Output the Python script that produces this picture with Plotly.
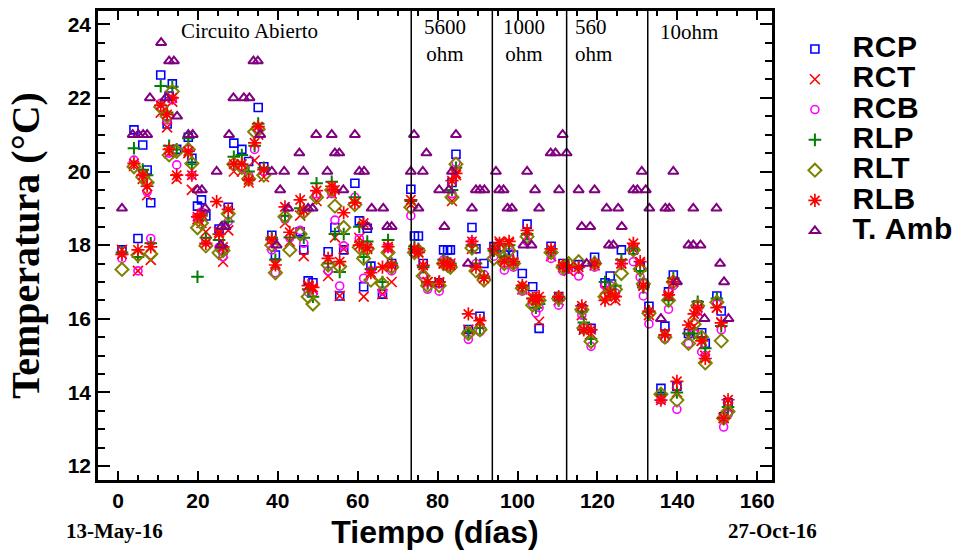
import plotly.graph_objects as go

# Días de medición (desde el 13-May-16) y temperaturas de cada sensor (°C)
dias = [1.0, 4.0, 5.0, 6.2, 7.3, 8.2, 10.7, 12.3, 12.8, 13.6,
        14.7, 17.6, 18.5, 19.9, 20.9, 22.0, 24.7, 25.3, 26.3, 27.6,
        29.0, 31.0, 32.7, 34.2, 35.1, 36.5, 38.5, 39.4, 41.8, 43.0,
        45.6, 46.5, 47.6, 48.8, 49.7, 52.6, 53.5, 54.3, 55.5, 56.5,
        59.3, 60.4, 61.5, 62.4, 63.3, 66.2, 67.6, 68.5, 73.3, 74.2,
        75.2, 76.4, 77.5, 80.4, 81.5, 82.5, 83.2, 83.6, 84.6, 87.7,
        88.6, 89.6, 90.6, 91.6, 94.1, 95.5, 96.7, 97.9, 99.0, 101.2,
        102.4, 103.8, 104.6, 105.4, 108.4, 110.3, 111.4, 112.8, 115.3, 116.1,
        116.6, 118.4, 119.3, 121.9, 123.2, 124.5, 126.0, 129.0, 130.7, 131.5,
        132.9, 135.9, 136.9, 137.8, 139.0, 139.9, 142.8, 144.2, 145.1, 146.1,
        147.0, 149.9, 151.0, 151.6, 152.7]

rcp = [17.87, 21.13, 18.18, 20.72, 20.04, 19.15, 22.62, 21.29, 22.05, 22.38,
       20.60, 20.93, 20.36, 19.06, 19.23, 18.79, None, 18.44, 17.87, 19.03,
       20.77, 20.60, 20.27, None, 21.74, 20.13, 18.27, 17.73, None, None,
       18.36, 17.87, 17.03, 16.98, None, 17.82, None, 18.48, 16.62, 17.87,
       19.68, 18.66, 16.87, 18.46, 17.43, 16.67, None, 17.50, 19.52, 18.25,
       18.25, 17.50, None, 16.98, 17.87, 17.87, 17.87, 19.70, 20.47, 15.71,
       18.48, 17.90, 16.07, 17.50, 17.96, None, 17.73, 17.73, 17.73, 17.23,
       18.57, 16.87, None, 15.74, 17.97, 16.60, 17.50, None, 17.47, 16.28,
       15.74, 15.74, 17.67, 16.98, 17.16, None, 17.87, 17.87, 17.41, 16.96,
       16.34, 14.11, 15.80, 16.73, 17.19, 14.17, 15.60, None, 16.37, 15.62,
       15.33, 16.62, 16.21, 13.34, 13.72]

rct = [17.87, 20.15, 17.30, 19.80, 19.36, 17.60, 21.60, 21.20, 20.50, 21.90,
       19.80, 20.50, 19.50, 18.70, 18.60, 18.36, None, 18.35, 17.55, 18.40,
       20.00, 20.00, 19.70, 20.30, 21.00, 19.85, 18.00, 17.50, 18.60, 18.10,
       18.80, 17.70, 16.90, 16.80, 19.20, 17.16, 19.40, 18.21, 16.62, 17.90,
       19.15, 18.20, 16.60, 17.90, 17.20, 16.67, 17.90, 17.00, 19.10, 17.85,
       17.80, 17.30, 17.00, 16.98, 17.50, 17.45, 17.50, 19.20, 19.90, 15.70,
       17.90, 17.40, 15.90, 17.10, 17.80, 18.10, 17.60, 18.05, 17.50, 16.80,
       18.20, 16.60, 16.50, 15.92, 17.70, 16.50, 17.40, 17.30, 17.30, 16.10,
       15.70, 15.60, 17.45, 16.80, 16.70, 16.50, 17.50, 17.90, 17.50, 16.90,
       16.10, 13.85, 15.60, 16.60, 17.00, 14.00, 15.50, 15.80, 16.20, 15.40,
       15.00, 16.30, 15.90, 13.30, 13.60]

rcb = [17.64, 20.31, 17.30, 19.95, 19.45, 18.18, 21.85, 21.40, 20.50, 21.95,
       20.18, 20.60, 19.90, 18.73, 18.90, 18.09, None, 17.94, 17.68, 18.64,
       20.15, 20.10, 19.90, 20.60, 21.10, 20.00, 17.87, 17.25, 18.70, 18.20,
       18.40, 18.05, 16.73, 16.70, 19.39, 17.30, 19.40, 18.68, 16.89, 17.98,
       19.30, 18.18, 17.10, 18.00, 17.30, 16.76, 17.94, 17.30, 18.80, 17.80,
       17.85, 17.20, 16.80, 16.75, 17.60, 17.55, 17.50, 19.40, 20.25, 15.44,
       18.10, 17.50, 15.65, 17.20, 17.70, 17.90, 17.32, 17.80, 17.40, 16.75,
       18.10, 16.40, 16.16, 16.30, 17.64, 16.37, 17.30, 17.35, 17.16, 16.10,
       15.75, 15.25, 17.40, 16.90, 16.90, 16.70, 17.50, 17.55, 17.13, 16.62,
       15.86, 13.80, 15.45, 16.26, 16.90, 13.54, 15.33, 15.60, 16.20, 15.10,
       15.00, 16.40, 15.70, 13.06, 13.40]

rlp = [17.80, 20.63, 17.68, 20.05, 19.90, 18.05, 22.32, 21.60, 20.70, 22.30,
       20.60, 20.90, 20.20, 17.14, 18.80, 18.20, None, 18.14, 17.90, 18.64,
       20.40, 20.45, 20.00, 20.70, 21.30, 20.10, 18.20, 17.60, 18.80, 18.21,
       19.00, 18.20, 16.80, 16.60, 19.68, 17.50, 19.72, 18.30, 17.27, 18.30,
       19.30, 18.50, 17.68, 18.10, 17.35, 17.00, 18.14, 17.50, 19.20, 17.96,
       17.90, 17.40, 16.96, 17.00, 17.60, 17.55, 17.50, 19.50, 20.10, 15.65,
       18.00, 17.50, 15.75, 17.15, 17.85, 18.00, 17.70, 18.00, 17.50, 16.85,
       18.30, 16.55, 16.30, 16.40, 17.80, 16.50, 17.45, 17.45, 17.40, 16.20,
       15.90, 15.45, 17.55, 17.00, 16.80, 16.90, 17.60, 17.90, 17.30, 16.85,
       16.20, 13.95, 15.55, 16.50, 17.10, 14.00, 15.60, 15.60, 16.46, 15.50,
       15.20, 16.55, 15.80, 13.30, 13.60]

rlt = [17.34, 20.13, 17.73, 19.85, 19.70, 17.76, 21.75, 21.50, 20.45, 22.17,
       20.55, 20.60, 20.22, 18.47, 18.60, 17.98, None, 17.79, 17.85, 18.85,
       20.20, 20.11, 19.80, 21.08, 21.15, 19.90, 18.00, 17.25, 18.77, 17.87,
       18.30, 18.90, 16.60, 16.40, 19.30, 17.46, 19.50, 19.06, 17.42, 18.48,
       19.10, 17.94, 17.64, 17.90, 17.05, 16.95, 17.80, 17.40, 19.03, 17.80,
       17.85, 17.16, 16.90, 16.90, 17.50, 17.45, 17.40, 19.30, 20.20, 15.60,
       17.92, 17.30, 15.70, 17.05, 17.64, 17.90, 17.50, 17.85, 17.50, 16.83,
       18.23, 16.37, 16.45, 16.50, 17.80, 16.55, 17.40, 17.50, 17.55, 16.25,
       15.75, 15.38, 17.50, 16.60, 16.70, 16.80, 17.23, 17.87, 17.35, 16.95,
       16.15, 13.95, 15.50, 16.50, 17.00, 13.79, 15.33, 15.85, 16.35, 15.50,
       14.80, 16.45, 15.40, 13.30, 13.48]

rlb = [17.75, 20.22, 17.87, 19.90, 19.60, 17.95, 21.80, 21.55, 20.60, 22.00,
       19.90, 20.55, 19.90, 18.77, 18.85, 18.05, 19.18, 18.30, 17.95, 18.97,
       20.20, 20.20, 19.77, 20.78, 21.22, 20.05, 18.15, 17.46, 19.04, 18.35,
       19.23, 18.95, 16.90, 16.85, 19.48, 17.64, 19.60, 19.50, 17.55, 18.88,
       19.15, 18.00, 18.60, 17.93, 17.25, 17.40, 17.96, 17.45, 19.23, 17.90,
       17.80, 17.45, 17.00, 17.00, 17.50, 17.50, 17.45, 19.75, 19.95, 16.13,
       18.10, 17.40, 15.95, 17.10, 17.90, 18.05, 17.55, 18.10, 17.55, 16.90,
       18.40, 16.55, 16.50, 16.60, 17.90, 16.60, 17.45, 17.40, 17.40, 16.35,
       15.70, 15.70, 17.50, 16.50, 16.70, 16.60, 17.50, 18.05, 17.55, 16.90,
       16.20, 13.79, 15.56, 16.65, 17.00, 14.30, 15.83, 16.13, 16.30, 15.40,
       14.92, 16.30, 15.89, 13.30, 13.80]

# Temperatura ambiente
dias_amb = [1.0, 3.7, 5.1, 6.3, 7.3, 8.0, 10.8, 12.0, 12.8, 14.0,
            14.8, 17.6, 18.7, 19.9, 21.0, 21.8, 24.7, 25.7, 25.9, 26.9,
            27.8, 28.9, 31.5, 32.9, 33.9, 35.0, 35.6, 38.5, 39.7, 40.6,
            41.6, 42.6, 45.4, 46.4, 47.6, 48.7, 49.6, 52.4, 53.5, 54.3,
            55.4, 56.4, 59.3, 60.4, 61.6, 62.4, 63.5, 66.4, 67.4, 68.5,
            73.3, 74.1, 75.2, 76.3, 77.2, 80.4, 81.7, 82.8, 83.6, 84.6,
            87.6, 88.6, 89.6, 90.6, 91.7, 94.6, 95.4, 96.5, 97.5, 98.6,
            101.5, 102.4, 103.5, 104.4, 105.4, 108.3, 109.5, 110.4, 111.3, 112.3,
            115.3, 116.1, 117.3, 118.2, 119.3, 122.3, 122.9, 124.0, 125.2, 126.1,
            129.0, 130.0, 131.1, 132.1, 133.0, 135.9, 137.0, 138.0, 139.0, 139.9,
            142.8, 144.0, 144.0, 145.8, 146.8, 149.8, 150.7, 151.7, 152.8]
t_amb = [19, 21, 21, 21, 21, 22, 23.5, 22, 23, 23,
         21.5, 21, 21, 19.5, 19.5, 19, 20, 18, 18.5, 18.5,
         21, 22, 22, 22, 23, 23, 21, 20, 18, 19.5,
         20, 19, 20.5, 20, 19, 19, 21, 20, 21, 20.5,
         20.5, 19.5, 21, 20, 20, 18.5, 19, 19, 18.5, 18.5,
         20, 21, 19, 20, 20.5, 19.5, 18.5, 19.5, 20, 21,
         17.5, 19, 19.5, 19.5, 19.5, 20, 19.5, 19.5, 19, 19,
         18, 20, 18, 19.5, 19, 20.5, 20.5, 19.5, 21, 20.5,
         19.5, 18.5, 17.5, 18.5, 19.5, 19, 18, 18, 19, 18.5,
         19.5, 19.5, 20, 19.5, 19, 16, 19, 19, 20, 17,
         18, 19, 18, 18, 16, 19, 17.5, 17, 16]

# Cambios de carga (día) y sus rótulos
cambios_carga = [73.4, 93.7, 112.3, 132.6]
rotulos_carga = [
    ("Circuito Abierto", 33.0, 0.957, "center"),
    ("5600<br>ohm", 81.8, 0.938, "center"),
    ("1000<br>ohm", 101.6, 0.938, "center"),
    ("560<br>ohm", 113.9, 0.938, "left"),
    ("10ohm", 143.0, 0.956, "center"),
]

SANS = "Liberation Sans, Arial, sans-serif"
SERIF = "Liberation Serif, Times New Roman, serif"

series = [
    ("RCP", rcp, "square-open", "#0000FF", 8, 1.6),
    ("RCT", rct, "x-thin-open", "#FF0000", 10, 1.6),
    ("RCB", rcb, "circle-open", "#FF00FF", 8, 1.6),
    ("RLP", rlp, "cross-thin-open", "#008000", 9, 2.0),
    ("RLT", rlt, "diamond-open", "#808000", 10, 2.0),
    ("RLB", rlb, "asterisk-open", "#FF0000", 11, 1.7),
]


def etiqueta(nombre):
    return ("<span style='font-size:30px;letter-spacing:0.5px'>\u00a0\u00a0"
            + nombre + "</span>")


fig = go.Figure()
for nombre, valores, simbolo, color, tam, grosor in series:
    fig.add_trace(go.Scatter(
        x=dias, y=valores, mode="markers", name=etiqueta(nombre),
        marker=dict(symbol=simbolo, size=tam, color=color,
                    line=dict(color=color, width=grosor)),
    ))

fig.add_trace(go.Scatter(
    x=dias_amb, y=t_amb, mode="markers", name=etiqueta("T. Amb"),
    marker=dict(symbol="triangle-up-open", size=9, color="#800080",
                line=dict(color="#800080", width=2)),
))

for d in cambios_carga:
    fig.add_shape(type="line", xref="x", yref="paper", x0=d, x1=d, y0=0, y1=1,
                  line=dict(color="black", width=1.5))

for texto, x, y, alineado in rotulos_carga:
    fig.add_annotation(text=texto, x=x, y=y, xref="x", yref="paper",
                       xanchor=alineado, yanchor="middle", align=alineado,
                       showarrow=False, font=dict(family=SERIF, size=21, color="black"))

for texto, x in (("13-May-16", 0.025), ("27-Oct-16", 1.0)):
    fig.add_annotation(text=texto, x=x, y=-0.1, xref="paper", yref="paper",
                       xanchor="center", yanchor="middle", showarrow=False,
                       yshift=-4,
                       font=dict(family=SERIF, size=21, color="black", weight="bold"))

eje_comun = dict(
    showgrid=False, zeroline=False, showline=True, linecolor="black", linewidth=2.5,
    mirror="ticks", ticks="inside", tickcolor="black", tickwidth=2,
    tickfont=dict(family=SANS, size=21, color="black", weight="bold"),
)

fig.update_xaxes(
    range=[-5.0, 163.7], tick0=0, dtick=20, ticklen=9,
    minor=dict(dtick=5, ticks="inside", ticklen=5, tickwidth=1.5, tickcolor="black"),
    title=dict(text="Tiempo (días)", standoff=14,
               font=dict(family=SANS, size=32, color="black", weight="bold")),
    **eje_comun,
)
fig.update_yaxes(
    range=[11.62, 24.36], tick0=12, dtick=2, ticklen=12,
    minor=dict(dtick=0.5, ticks="inside", ticklen=7, tickwidth=1.5, tickcolor="black"),
    title=dict(text="Temperatura (°C)", standoff=16,
               font=dict(family=SERIF, size=40, color="black", weight="bold")),
    **eje_comun,
)

fig.update_layout(
    width=959, height=550,
    margin=dict(l=98, r=187, t=11, b=70, autoexpand=False),
    paper_bgcolor="white", plot_bgcolor="white",
    showlegend=True,
    legend=dict(x=1.034, y=0.962, xanchor="left", yanchor="top",
                font=dict(family=SANS, size=21, color="black", weight="bold"),
                bgcolor="rgba(0,0,0,0)", borderwidth=0, tracegroupgap=0),
)

fig.write_html("out.html", config={"displayModeBar": False})
